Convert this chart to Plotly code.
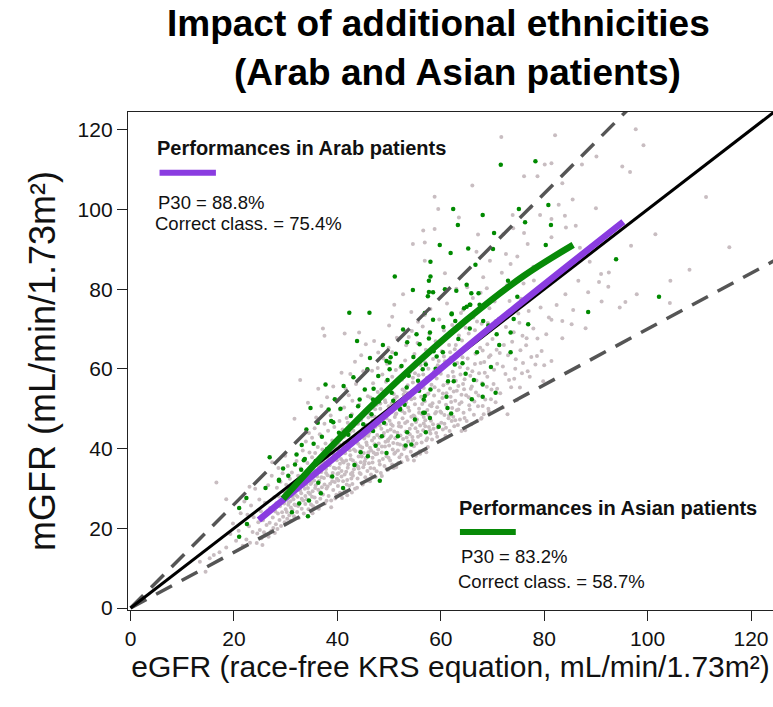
import plotly.graph_objects as go

# ---------------------------------------------------------------------------
# Measured vs estimated GFR (mL/min/1.73m2): background cohort (grey)
# ---------------------------------------------------------------------------
grey_low = [
    (13.4, 11.6), (14.5, 9.1), (15.3, 12.5), (16.6, 31.5), (18.5, 15.2), (18.5, 27.3),
    (19.3, 18.6), (17.2, 14.0), (20.4, 16.9), (21.3, 23.8), (19.8, 21.2), (16.1, 13.3),
    (21.7, 15.6), (20.9, 19.4), (22.0, 26.7),
    (22.4, 17.2), (22.9, 20.5), (23.1, 16.4), (23.0, 30.4), (23.6, 19.1), (23.8, 22.8),
    (24.1, 29.9), (24.4, 16.3), (24.5, 18.7), (24.7, 21.5), (25.0, 19.6), (25.2, 24.3),
    (25.3, 17.5), (25.6, 22.0), (25.8, 19.0), (26.0, 26.4), (26.1, 18.2), (26.3, 20.8),
    (26.5, 23.6), (26.7, 17.9), (26.9, 21.4), (27.0, 25.1), (27.2, 19.3), (27.4, 36.6),
    (27.5, 22.7), (27.6, 20.1), (27.8, 27.8), (27.9, 18.8), (28.0, 24.2), (23.3, 25.7),
    (24.9, 27.2), (25.5, 15.8), (26.6, 30.8), (27.3, 33.2), (22.6, 23.4),
]

grey_30s = [
    (28.1, 21.0), (28.2, 26.3), (28.3, 30.2), (28.4, 19.8), (28.5, 23.7), (28.6, 35.1),
    (28.7, 28.0), (28.8, 22.1), (28.9, 25.5), (29.0, 31.7), (29.1, 20.6), (29.2, 27.1),
    (29.3, 24.0), (29.4, 33.8), (29.5, 22.9), (29.6, 29.3), (29.7, 26.2), (29.8, 21.5),
    (29.9, 38.2), (30.0, 24.8), (30.1, 30.9), (30.2, 27.7), (30.3, 22.4), (30.4, 35.6),
    (30.5, 25.9), (30.6, 29.0), (30.7, 23.3), (30.8, 32.4), (30.9, 26.8), (31.0, 21.9),
    (31.1, 28.5), (31.2, 34.0), (31.3, 24.6), (31.4, 30.3), (31.5, 27.3), (31.6, 23.0),
    (31.7, 47.5), (31.8, 31.5), (31.9, 25.8), (32.0, 29.6), (32.1, 36.9), (32.2, 24.1),
    (32.3, 27.9), (32.4, 33.2), (32.5, 22.6), (32.6, 30.7), (32.7, 26.4), (32.8, 57.2),
    (32.9, 35.0), (33.0, 28.8), (33.1, 24.9), (33.2, 31.9), (33.3, 39.5), (33.4, 27.0),
    (33.5, 23.7), (33.6, 33.6), (33.7, 29.9), (33.8, 26.1), (33.9, 41.8), (34.0, 31.0),
    (34.1, 27.2), (34.2, 36.4), (34.3, 51.5), (34.3, 30.1), (34.4, 24.8), (34.5, 33.7),
    (34.6, 39.0), (34.7, 28.6), (34.8, 35.2), (34.9, 26.0), (35.0, 31.4), (35.1, 42.7),
    (35.1, 37.8), (35.2, 29.3), (35.3, 25.5), (35.4, 34.6), (35.5, 32.0), (35.6, 45.1),
    (35.6, 27.7), (35.7, 38.9), (35.8, 30.8), (35.9, 36.1), (36.0, 26.6), (36.1, 33.0),
    (36.2, 40.4), (36.3, 55.0), (36.3, 29.7), (36.4, 35.5), (36.5, 31.9), (36.6, 43.6),
    (36.7, 27.4), (36.8, 37.3), (36.9, 34.1), (37.0, 30.3), (37.1, 39.8), (37.2, 70.1),
    (37.2, 28.5), (37.3, 36.7), (37.4, 32.6), (37.5, 68.3), (37.5, 46.2), (37.6, 26.2),
    (37.7, 41.3), (37.8, 34.9), (37.9, 30.0), (38.0, 37.9), (38.1, 33.3), (38.2, 44.5),
    (38.3, 28.1), (38.4, 39.2), (38.5, 35.8), (38.6, 31.2), (38.7, 48.3), (38.8, 27.0),
    (38.9, 36.9), (39.0, 42.0), (39.1, 33.9), (39.2, 29.6), (39.3, 38.5), (39.4, 45.4),
    (39.5, 31.6), (39.6, 35.0), (39.7, 40.8), (39.8, 28.4), (39.9, 37.1), (40.0, 33.6),
    (34.5, 43.9), (35.9, 47.8), (36.9, 50.7), (38.0, 52.9), (39.2, 55.6), (36.4, 24.9),
    (37.9, 26.9), (38.8, 25.3), (39.6, 27.5), (35.2, 23.8),
    (30.2, 24.1), (30.6, 26.5), (31.0, 25.2), (31.3, 27.9), (31.7, 26.0), (32.0, 28.3),
    (32.4, 25.6), (32.8, 29.5), (33.1, 27.4), (33.5, 30.8), (33.8, 28.1), (34.1, 32.6),
    (34.4, 29.0), (34.8, 31.1), (35.1, 27.9), (35.4, 33.3), (35.7, 30.1), (36.0, 34.4),
    (36.3, 31.5), (36.6, 29.2), (36.9, 32.8), (37.2, 35.6), (37.5, 31.0), (37.8, 33.9),
    (38.1, 30.5), (38.4, 36.3), (38.7, 33.0), (39.0, 31.8), (39.3, 35.2), (39.6, 38.0),
    (39.9, 32.4), (30.4, 28.0), (31.5, 29.2), (32.6, 31.0), (33.7, 32.0), (34.6, 34.8),
    (35.6, 35.9), (36.7, 36.1), (37.6, 37.5), (38.6, 38.9), (39.5, 40.1),
]

grey_40s = [
    (40.1, 30.6), (40.2, 39.7), (40.3, 35.1), (40.4, 46.9), (40.5, 28.9), (40.6, 42.3),
    (40.7, 37.4), (40.8, 59.0), (40.8, 33.0), (40.9, 40.6), (41.0, 44.8), (41.1, 31.8),
    (41.2, 36.5), (41.3, 50.3), (41.4, 68.9), (41.4, 29.4), (41.5, 38.8), (41.6, 43.5),
    (41.7, 34.2), (41.8, 47.7), (41.9, 32.1), (42.0, 40.0), (42.1, 36.0), (42.2, 53.4),
    (42.3, 30.7), (42.4, 44.1), (42.5, 38.3), (42.6, 33.6), (42.7, 41.9), (42.8, 48.6),
    (42.9, 31.1), (43.0, 37.0), (43.1, 45.6), (43.2, 34.8), (43.3, 42.7), (43.4, 29.9),
    (43.5, 39.4), (43.6, 56.2), (43.7, 35.7), (43.8, 46.3), (43.9, 32.5), (44.0, 41.2),
    (44.1, 38.0), (44.2, 69.1), (44.2, 51.0), (44.3, 33.9), (44.4, 43.8), (44.5, 36.6),
    (44.6, 47.2), (44.7, 31.3), (44.8, 40.3), (44.9, 44.9), (45.0, 59.4), (45.0, 35.3),
    (45.1, 38.9), (45.2, 42.5), (45.3, 49.5), (45.4, 32.8), (45.5, 37.6), (45.6, 45.9),
    (45.7, 40.9), (45.8, 34.4), (45.9, 53.1), (46.0, 39.1), (40.5, 49.8), (41.6, 55.0),
    (42.5, 58.7), (43.4, 61.8), (44.6, 63.4), (45.5, 66.2), (40.9, 27.6), (41.9, 28.3),
    (42.8, 29.0), (43.8, 30.2), (44.9, 31.0), (45.8, 32.0), (40.2, 33.8), (41.0, 36.9),
    (42.0, 46.5), (43.0, 33.2), (44.0, 35.5), (45.2, 36.1), (43.5, 43.0), (42.4, 39.6),
    (41.3, 41.4), (44.4, 39.3), (45.6, 43.3), (46.0, 47.8), (42.9, 52.0), (41.8, 31.0),
    (46.1, 36.3), (46.2, 44.7), (46.3, 40.2), (46.4, 52.8), (46.5, 33.5), (46.6, 48.1),
    (46.7, 42.0), (46.8, 37.7), (46.9, 56.4), (47.0, 45.3), (47.1, 67.0), (47.1, 35.0),
    (47.2, 41.1), (47.3, 49.9), (47.4, 38.6), (47.5, 46.6), (47.6, 34.3), (47.7, 43.4),
    (47.8, 54.2), (47.9, 64.1), (47.9, 39.8), (48.0, 47.4), (48.1, 36.9), (48.2, 42.8),
    (48.3, 51.3), (48.4, 33.9), (48.5, 45.0), (48.6, 40.5), (48.7, 58.6), (48.8, 37.4),
    (48.9, 48.7), (49.0, 43.9), (49.1, 35.6), (49.2, 52.1), (49.3, 41.7), (49.4, 46.1),
    (49.5, 38.1), (49.6, 61.3), (49.7, 44.4), (49.8, 34.7), (49.9, 50.6), (50.0, 70.9),
    (50.0, 40.8), (50.1, 47.0), (50.2, 37.0), (50.3, 55.5), (50.4, 43.1), (50.5, 49.2),
    (50.6, 64.2), (50.6, 73.1), (50.6, 36.0), (50.7, 45.7), (50.8, 41.4), (50.9, 53.7),
    (51.0, 76.1), (51.0, 38.7), (51.1, 47.9), (51.2, 42.6), (51.3, 59.7), (51.4, 35.4),
    (51.5, 50.8), (51.6, 44.0), (51.7, 39.5), (51.8, 56.9), (51.9, 46.4), (52.0, 37.8),
    (46.3, 31.8), (47.4, 32.9), (48.6, 33.1), (49.5, 34.9), (50.9, 35.1), (51.8, 36.4),
    (46.7, 59.5), (47.8, 60.2), (48.9, 62.6), (49.9, 65.3), (51.5, 67.8), (46.0, 43.2),
    (47.0, 39.0), (48.2, 45.8), (49.1, 48.0), (50.3, 44.8), (51.1, 52.5), (47.6, 51.0),
    (48.5, 54.9), (49.4, 56.8), (50.6, 58.0), (46.8, 46.9), (49.8, 42.2), (51.4, 48.8),
    (40.2, 32.0), (40.5, 36.2), (40.8, 34.4), (41.1, 39.1), (41.4, 33.5), (41.7, 37.0),
    (42.0, 35.2), (42.3, 41.0), (42.6, 37.3), (42.9, 34.0), (43.2, 39.8), (43.5, 36.3),
    (43.8, 42.2), (44.1, 35.0), (44.4, 40.6), (44.7, 38.0), (45.0, 43.7), (45.3, 36.8),
    (45.6, 41.5), (45.9, 38.4), (46.2, 44.0), (46.5, 39.6), (46.8, 36.5), (47.1, 42.7),
    (47.4, 45.5), (47.7, 38.7), (48.0, 41.3), (48.3, 46.9), (48.6, 39.0), (48.9, 43.2),
    (49.2, 40.5), (49.5, 47.6), (49.8, 41.9), (40.4, 41.1), (41.3, 43.0), (42.2, 43.8),
    (43.1, 44.5), (44.0, 46.2), (45.0, 48.3), (46.1, 49.0), (47.2, 48.0), (48.3, 50.0),
    (49.3, 51.6), (42.7, 32.5), (44.5, 33.6), (46.4, 35.1), (48.2, 36.0), (49.9, 37.7),
]

grey_50s = [
    (52.1, 41.0), (52.2, 50.2), (52.3, 45.5), (52.4, 38.5), (52.5, 57.3), (52.6, 47.6),
    (52.7, 78.7), (52.7, 42.4), (52.8, 53.6), (52.9, 39.9), (53.0, 48.9), (53.1, 62.1),
    (53.2, 44.3), (53.3, 51.6), (53.4, 37.9), (53.5, 46.8), (53.6, 55.9), (53.7, 41.8),
    (53.8, 68.0), (53.9, 49.5), (54.0, 43.6), (54.1, 59.2), (54.2, 39.2), (54.3, 74.3),
    (54.3, 52.4), (54.4, 46.0), (54.5, 42.9), (54.6, 91.3), (54.6, 56.6), (54.7, 48.3),
    (54.8, 40.6), (54.9, 63.7), (55.0, 51.1), (55.1, 45.1), (55.2, 38.2), (55.3, 54.7),
    (55.4, 47.3), (55.5, 66.5), (55.6, 43.0), (55.7, 58.4), (55.8, 50.0), (55.9, 39.3),
    (56.0, 45.8), (56.1, 61.0), (56.2, 53.0), (56.3, 41.5), (56.4, 48.6), (56.5, 70.6),
    (56.6, 94.7), (56.6, 44.6), (56.7, 55.2), (56.8, 39.6), (56.9, 91.7), (56.9, 87.1),
    (56.9, 51.9), (57.0, 47.1), (57.1, 64.8), (57.2, 42.1), (57.3, 57.8), (57.4, 49.7),
    (57.5, 40.4), (57.6, 53.8), (57.7, 45.4), (57.8, 68.8), (57.9, 50.9), (58.0, 43.8),
    (52.4, 36.6), (53.6, 37.2), (54.8, 37.0), (56.0, 38.7), (57.2, 39.1), (52.2, 60.4),
    (53.3, 65.9), (54.4, 69.5), (55.6, 71.8), (56.9, 73.5), (58.0, 75.0), (53.0, 54.4),
    (55.0, 58.9), (57.0, 61.6), (52.9, 58.0), (54.9, 48.1), (56.7, 46.3),
    (58.1, 47.0), (58.2, 56.0), (58.3, 42.3), (58.4, 51.4), (58.5, 62.5), (58.6, 45.0),
    (58.7, 53.3), (58.8, 103.2), (58.8, 95.1), (58.9, 48.8), (59.0, 66.9), (59.1, 43.9),
    (59.2, 57.6), (59.3, 50.4), (59.4, 60.9), (59.5, 100.1), (59.5, 46.0), (59.6, 54.6),
    (59.7, 72.4), (59.8, 41.9), (59.9, 49.3), (60.0, 58.8), (60.1, 46.5), (60.2, 64.4),
    (60.3, 52.7), (60.4, 44.8), (60.5, 55.9), (60.6, 69.6), (60.7, 48.4), (60.8, 84.0),
    (60.8, 61.9), (60.9, 43.2), (61.0, 45.2), (61.1, 53.9), (61.2, 76.4), (61.3, 50.1),
    (61.4, 58.2), (61.5, 47.6), (61.6, 66.0), (61.7, 44.4), (61.8, 55.1), (61.9, 62.8),
    (62.0, 51.7), (62.1, 46.9), (62.2, 71.0), (62.3, 59.3), (62.4, 48.0), (62.5, 54.3),
    (62.6, 45.6), (62.7, 64.9), (62.8, 52.0), (62.9, 57.0), (63.0, 80.1), (63.1, 49.6),
    (63.2, 61.5), (63.3, 45.9), (63.4, 55.7), (63.5, 98.0), (63.5, 68.4), (63.6, 51.2),
    (63.7, 47.3), (63.8, 58.6), (63.9, 74.0), (64.0, 44.4), (64.0, 53.5),
    (50.1, 42.6), (50.4, 46.1), (50.7, 39.8), (51.0, 44.3), (51.3, 48.6), (51.6, 41.2),
    (51.9, 45.6), (52.2, 43.3), (52.5, 49.4), (52.8, 40.7), (53.1, 46.4), (53.4, 42.8),
    (53.7, 50.3), (54.0, 45.0), (54.3, 48.0), (54.6, 42.0), (54.9, 52.6), (55.2, 46.7),
    (55.5, 44.2), (55.8, 49.0), (56.1, 43.4), (56.4, 51.2), (56.7, 47.9), (57.0, 45.6),
    (57.3, 53.6), (57.6, 48.4), (57.9, 44.6), (58.2, 50.6), (58.5, 46.1), (58.8, 55.4),
    (59.1, 49.2), (59.4, 45.3), (59.7, 51.7), (50.5, 51.3), (51.5, 53.0), (52.6, 54.8),
    (53.6, 53.9), (54.6, 57.8), (55.7, 56.1), (56.6, 58.6), (57.6, 60.0), (58.7, 59.3),
    (59.6, 62.0), (51.2, 39.0), (53.2, 40.3), (55.3, 41.3), (57.4, 42.6), (59.3, 43.0),
    (60.1, 49.0), (60.4, 53.8), (60.7, 46.2), (61.0, 51.0), (61.3, 56.4), (61.6, 48.3),
    (61.9, 53.0), (62.2, 50.2), (62.5, 58.0), (62.8, 47.1), (63.1, 54.5), (63.4, 49.8),
    (63.7, 60.4), (60.6, 63.1), (61.8, 64.2), (62.9, 66.0),
]

grey_high = [
    (64.2, 62.9), (64.4, 49.0), (64.6, 57.4), (64.8, 70.3), (65.0, 46.9), (65.2, 60.1),
    (65.4, 52.9), (65.6, 49.8), (65.8, 66.6), (66.0, 55.6), (66.1, 106.0), (66.2, 77.8),
    (66.4, 48.5), (66.6, 61.2), (66.8, 54.1), (66.9, 89.4), (67.0, 71.9), (67.2, 93.7),
    (67.2, 50.6), (67.4, 58.9), (67.6, 65.3), (67.8, 47.5), (67.9, 47.7), (68.0, 56.4),
    (68.2, 83.0), (68.4, 61.7), (68.6, 52.3), (68.8, 69.0), (69.0, 58.0), (69.2, 50.0),
    (69.5, 87.1), (69.4, 75.2), (69.6, 63.4), (69.8, 54.8), (70.0, 67.5), (64.3, 74.8),
    (65.1, 80.5), (66.3, 72.9), (67.7, 79.1), (68.9, 80.2), (64.7, 44.6), (65.9, 46.1),
    (67.1, 47.0), (68.3, 48.6), (69.3, 49.3), (64.5, 54.9), (65.7, 58.3), (66.7, 63.8),
    (68.1, 64.6), (69.1, 71.5),
    (64.0, 51.6), (64.3, 56.2), (64.6, 47.7), (64.9, 53.4), (65.2, 62.6), (65.5, 50.9),
    (65.8, 55.0), (66.1, 59.4), (66.5, 51.8), (66.9, 57.1), (67.3, 53.3), (67.7, 61.5),
    (68.1, 50.7), (68.5, 59.0), (68.9, 55.5), (69.3, 63.0), (69.7, 52.4), (64.1, 67.1),
    (65.4, 68.9), (66.6, 69.7), (67.9, 71.3), (69.0, 66.2),
    (70.2, 56.2), (70.6, 51.6), (70.9, 61.3), (71.2, 72.6), (71.5, 53.9), (71.7, 118.2),
    (72.1, 93.8), (72.2, 66.0), (72.5, 58.7), (72.6, 88.8), (72.9, 48.6), (73.0, 63.4),
    (73.3, 77.0), (73.6, 55.4), (73.9, 98.6), (74.0, 95.3), (74.1, 69.2), (74.4, 60.0),
    (74.8, 88.2), (74.7, 52.1), (75.0, 73.9), (75.3, 55.3), (75.4, 64.7), (75.7, 58.9),
    (76.0, 81.4), (76.1, 108.3), (76.1, 94.1), (70.4, 76.9), (71.8, 84.1), (73.5, 86.3),
    (72.0, 50.3), (74.2, 57.5), (75.8, 68.3), (70.8, 64.8), (72.8, 81.0),
    (70.3, 59.8), (70.9, 55.0), (71.4, 64.0), (72.0, 60.6), (72.6, 70.5), (73.2, 57.2),
    (73.8, 66.8), (74.5, 62.4), (75.2, 71.6), (75.9, 61.5), (76.5, 65.9), (77.2, 58.0),
    (77.9, 70.1), (78.6, 63.2), (79.3, 75.4), (70.6, 72.0), (73.0, 74.3), (75.5, 77.6),
    (78.0, 82.2), (80.0, 60.9),
    (76.6, 67.7), (76.8, 59.4), (76.8, 91.3), (77.0, 74.5), (77.4, 100.5), (77.5, 63.0),
    (78.3, 61.1), (78.7, 67.6), (78.7, 108.3), (78.1, 79.3), (79.2, 98.6), (79.5, 64.5),
    (79.8, 56.9), (80.1, 111.3), (80.3, 80.8), (80.4, 68.7), (80.9, 72.9), (81.4, 111.6),
    (81.4, 97.6), (81.4, 93.0), (81.4, 62.0), (81.4, 72.3), (82.1, 118.6), (82.8, 101.2),
    (83.5, 106.6), (83.5, 72.0), (83.5, 67.7), (84.0, 98.4), (84.1, 78.7), (84.2, 95.5),
    (82.4, 76.0), (77.9, 85.6),
    (85.3, 71.2), (85.5, 102.5), (85.6, 74.8), (86.1, 95.9), (86.6, 82.1), (87.3, 111.3),
    (88.5, 79.2), (88.8, 86.9), (90.0, 100.3), (90.1, 113.3), (90.6, 81.8), (91.0, 83.8),
    (91.1, 76.9), (92.4, 80.6), (92.5, 84.2), (94.6, 75.4), (95.1, 110.8), (95.7, 76.8),
    (96.6, 109.4), (96.8, 90.9), (97.7, 120.1), (97.9, 78.7), (99.2, 116.1), (101.5, 93.8),
    (104.3, 76.5), (104.4, 82.1), (108.1, 84.9), (111.3, 103.1), (115.8, 90.5),
    (86.9, 90.4), (88.0, 70.2),
]

# Asian patients (green)
asian_upper = [
    (71.6, 111.2), (78.3, 112.1), (62.4, 100.1), (68.1, 98.6), (75.1, 100.1), (80.8, 101.1),
    (76.3, 96.8), (81.3, 96.1), (63.3, 96.1), (70.3, 94.1), (59.8, 91.1), (65.3, 90.2),
    (70.1, 90.1), (80.3, 91.1), (61.9, 89.1), (58.0, 86.9), (66.7, 86.1), (58.0, 83.2),
    (57.7, 82.1), (51.1, 83.2), (42.3, 74.1), (46.2, 74.1), (54.6, 79.8), (57.7, 79.3),
    (58.5, 79.2), (57.5, 78.2), (60.8, 80.0), (65.0, 81.1), (65.9, 79.0), (67.3, 79.0),
    (63.0, 79.6), (65.6, 76.1), (64.5, 75.2), (62.1, 73.9), (56.9, 74.0), (74.8, 78.1),
    (73.0, 82.1), (88.5, 74.3), (93.9, 87.5), (102.2, 78.1),
]

asian_core = [
    (43.8, 67.0), (37.7, 56.1), (45.8, 59.9), (45.3, 54.8), (34.8, 50.2), (40.6, 50.0),
    (39.2, 46.6), (26.9, 37.8), (32.1, 38.5), (33.7, 37.4), (28.7, 31.9), (26.1, 30.1),
    (22.4, 27.6), (36.3, 31.4), (41.1, 30.1), (48.2, 31.9), (48.6, 43.1), (51.7, 43.1),
    (45.9, 38.1), (44.5, 39.1), (52.1, 49.8), (49.5, 62.0), (50.1, 59.9), (52.7, 69.9),
    (47.9, 58.2), (54.3, 41.0), (53.2, 40.8), (57.1, 44.1), (53.5, 44.1), (61.3, 50.2),
    (61.1, 53.0), (56.7, 52.3), (56.9, 49.0), (57.9, 47.7), (52.1, 50.0), (62.5, 56.9),
    (61.4, 56.9), (66.4, 57.2), (68.1, 56.1), (68.1, 53.0), (70.6, 54.0), (64.2, 61.4),
    (62.7, 61.1), (67.0, 64.2), (73.5, 64.2), (70.8, 68.7), (73.5, 69.1), (76.9, 71.2),
    (69.2, 70.9), (68.2, 72.0), (65.6, 70.1), (62.8, 72.0), (62.1, 73.7), (65.0, 75.6),
    (65.7, 76.1), (67.5, 76.1), (58.5, 72.3), (57.9, 69.1), (57.7, 67.6), (55.3, 68.7),
    (53.5, 66.7), (60.4, 64.2), (59.2, 63.1), (57.1, 61.1), (56.5, 59.9), (53.4, 55.3),
    (58.0, 54.8), (56.9, 53.2), (55.0, 47.3), (21.0, 25.1), (22.5, 21.1), (21.0, 17.9),
    (28.7, 32.2), (33.5, 37.1), (33.0, 34.7), (34.5, 27.0), (32.6, 26.2), (31.2, 24.0),
    (34.3, 23.0), (38.8, 46.9), (42.1, 43.5), (44.3, 52.3), (46.9, 52.3), (49.5, 38.9),
    (46.9, 44.4), (56.6, 49.0), (50.1, 61.6), (50.3, 62.9),
    (30.5, 33.2), (31.8, 36.0), (33.1, 40.9), (34.0, 44.8), (35.4, 41.2), (36.2, 46.5),
    (37.0, 43.0), (38.3, 49.8), (39.5, 52.4), (40.3, 44.0), (41.2, 55.7), (42.6, 48.2),
    (43.1, 57.9), (44.0, 50.6), (45.0, 46.1), (46.3, 62.7), (47.0, 55.0), (48.0, 51.8),
    (48.8, 66.0), (49.7, 57.2), (50.5, 54.0), (51.3, 63.8), (52.4, 60.7), (53.8, 58.3),
    (54.7, 63.0), (55.6, 57.0), (59.0, 60.0), (60.0, 66.8), (63.4, 67.5), (64.8, 58.8),
    (35.8, 36.9), (38.0, 39.9), (40.0, 38.2), (42.0, 41.6), (44.7, 44.2), (46.6, 48.6),
    (49.0, 46.5), (50.8, 52.0), (53.0, 51.0), (55.8, 54.5), (31.0, 30.1), (29.5, 35.0),
    (36.8, 28.8), (39.0, 33.0), (43.3, 35.9), (47.4, 40.7), (59.6, 45.5), (62.0, 48.8),
    (66.0, 52.4), (69.7, 60.5), (71.3, 66.0), (74.1, 72.5), (60.5, 70.5), (55.9, 66.2),
    (58.6, 64.4),
]

# Smoothed trends
arab_fit_x = [24.8, 40.0, 55.0, 70.0, 95.3]
arab_fit_y = [22.1, 38.3, 54.6, 70.8, 96.9]
asian_fit_x = [29.5, 39.2, 52.0, 65.0, 76.0, 85.6]
asian_fit_y = [27.4, 41.0, 57.4, 72.3, 83.3, 91.1]

# Identity and +/-30% agreement bounds
identity_slope = 1.0
p30_slopes = [1.3, 0.7]
line_end = 130

tick_values = [0, 20, 40, 60, 80, 100, 120]

arab_stats = ["P30 = 88.8%", "Correct class. = 75.4%"]
asian_stats = ["P30 = 83.2%", "Correct class. = 58.7%"]

GREY_PT = "#c8bdc1"
GREEN = "#078a07"
PURPLE = "#8a3ce0"
FONT = "Liberation Sans, Arial, Helvetica, sans-serif"


def split(points):
    return [p[0] for p in points], [p[1] for p in points]


fig = go.Figure()

gx, gy = split(grey_low + grey_30s + grey_40s + grey_50s + grey_high)
fig.add_trace(go.Scatter(x=gx, y=gy, mode="markers",
                         marker=dict(size=4, color=GREY_PT, line=dict(width=0))))

ax, ay = split(asian_upper + asian_core)
fig.add_trace(go.Scatter(x=ax, y=ay, mode="markers",
                         marker=dict(size=4.5, color="#008a00", line=dict(width=0))))

for s in p30_slopes:
    fig.add_trace(go.Scatter(x=[0, line_end], y=[0, line_end * s], mode="lines",
                             line=dict(color="#555555", width=3.5, dash="18px,11px")))

fig.add_trace(go.Scatter(x=[0, line_end], y=[0, line_end * identity_slope], mode="lines",
                         line=dict(color="black", width=3)))

fig.add_trace(go.Scatter(x=arab_fit_x, y=arab_fit_y, mode="lines",
                         line=dict(color=PURPLE, width=6.5, shape="spline", smoothing=1)))
fig.add_trace(go.Scatter(x=asian_fit_x, y=asian_fit_y, mode="lines",
                         line=dict(color=GREEN, width=6.5, shape="spline", smoothing=1)))

# Legend keys (short coloured strokes)
fig.add_trace(go.Scatter(x=[5.6, 16.5], y=[109.2, 109.2], mode="lines",
                         line=dict(color=PURPLE, width=6)))
fig.add_trace(go.Scatter(x=[63.7, 74.5], y=[19.1, 19.1], mode="lines",
                         line=dict(color=GREEN, width=6)))

annotations = [
    dict(x=439, y=23, text="<b>Impact of additional ethnicities</b>", size=37),
    dict(x=458, y=73, text="<b>(Arab and Asian patients)</b>", size=37),
]
ann = []
for a in annotations:
    ann.append(dict(xref="paper", yref="paper",
                    x=(a["x"] - 128.3) / 644.7, y=(610 - a["y"]) / 498,
                    text=a["text"], showarrow=False, xanchor="center", yanchor="middle",
                    font=dict(family=FONT, size=a["size"], color="black")))


def note(x, y, text, size, bold=False):
    return dict(xref="x", yref="y", x=x, y=y, text=f"<b>{text}</b>" if bold else text,
                showarrow=False, xanchor="left", yanchor="middle", borderpad=0,
                font=dict(family=FONT, size=size, color="#111111"))


ann += [
    note(5.0, 115.5, "Performances in Arab patients", 20, bold=True),
    note(5.2, 101.8, arab_stats[0], 18.5),
    note(4.6, 96.5, arab_stats[1], 18.5),
    note(63.3, 25.0, "Performances in Asian patients", 20, bold=True),
    note(63.8, 12.9, asian_stats[0], 18.5),
    note(63.1, 6.7, asian_stats[1], 18.5),
]

axis_common = dict(
    tickvals=tick_values, ticks="outside", ticklen=10, tickwidth=1.4, tickcolor="#222222",
    showline=True, linecolor="#222222", linewidth=1.4, showgrid=False, zeroline=False,
    tickfont=dict(family=FONT, size=21, color="#111111"),
)

fig.update_layout(
    width=773, height=707,
    margin=dict(l=128, r=0, t=112, b=97),
    paper_bgcolor="white", plot_bgcolor="white",
    showlegend=False,
    annotations=ann,
    xaxis=dict(range=[-0.5, 124.25], mirror=True,
               title=dict(text="eGFR (race-free KRS equation, mL/min/1.73m²)",
                          font=dict(family=FONT, size=30, color="#111111"), standoff=0),
               **axis_common),
    yaxis=dict(range=[-0.5, 124.45],
               title=dict(text="mGFR (mL/min/1.73m²)",
                          font=dict(family=FONT, size=36, color="#111111"), standoff=10),
               **axis_common),
)

fig.write_html("out.html")
